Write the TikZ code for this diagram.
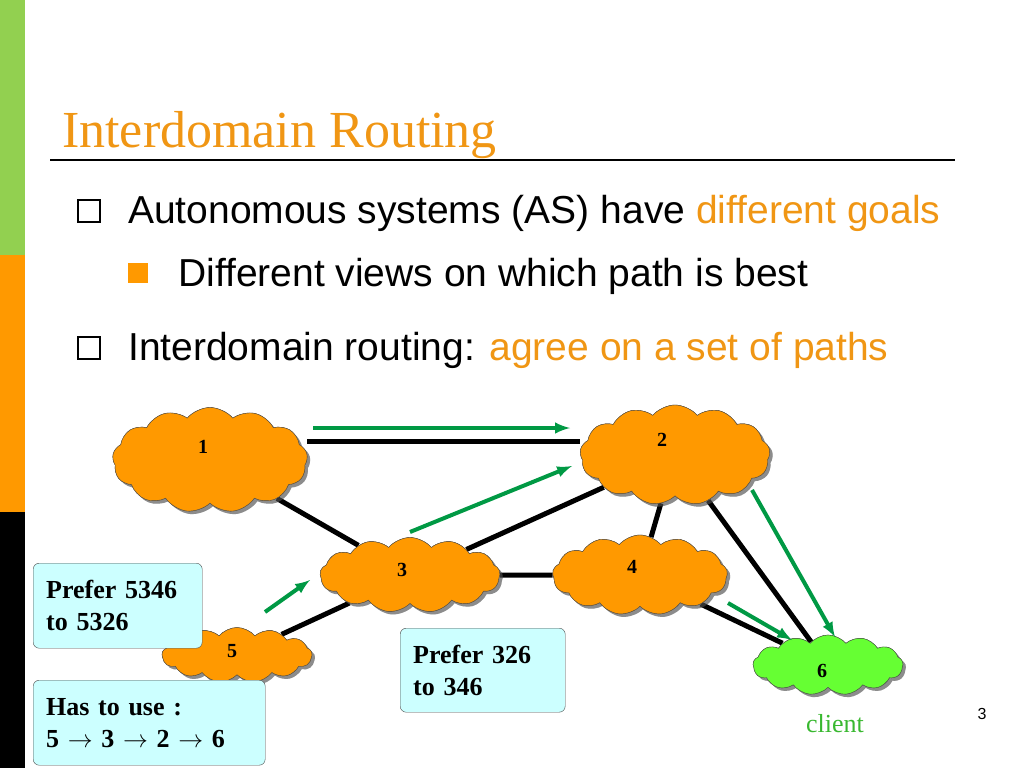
\documentclass[tikz,border=0pt]{standalone}
\usepackage{fontspec}
\setmainfont{Liberation Serif}
\newfontfamily\sansf{Liberation Sans}
\usetikzlibrary{shapes.symbols,shadows,positioning}
\definecolor{asorange}{RGB}{255,153,0}
\definecolor{titleorange}{RGB}{240,150,20}
\definecolor{cligreen}{RGB}{102,255,51}
\definecolor{arrgreen}{RGB}{0,153,68}
\definecolor{boxcyan}{RGB}{204,255,255}
\definecolor{barlime}{RGB}{146,208,80}
\tikzset{
  as/.style={cloud, cloud puffs=13, cloud puff arc=100, cloud ignores aspect, draw=black!70, fill=asorange,
    drop shadow={shadow xshift=3pt,shadow yshift=-3pt,fill=black!60}, inner sep=0pt},
  lbl/.style={font=\bfseries\fontsize{20}{20}\selectfont},
  link/.style={line width=5pt},
  pref/.style={arrgreen, line width=4pt, -latex},
  bul/.style={anchor=base west, font=\sansf\fontsize{39}{39}\selectfont, inner sep=0},
  note/.style={draw=black!70, fill=boxcyan, rounded corners=6pt, align=left,
    font=\bfseries\fontsize{26}{32}\selectfont, inner xsep=13pt, inner ysep=8pt, anchor=north west}
}
\begin{document}
\begin{tikzpicture}[x=1pt,y=-1pt]
\useasboundingbox (0,0) rectangle (1024,768);
% side bar
\fill[barlime] (0,0) rectangle (25,255);
\fill[asorange] (0,255) rectangle (25,512);
\fill[black] (0,512) rectangle (25,768);
% title
\node[anchor=base west, text=titleorange, font=\fontsize{52}{52}\selectfont, inner sep=0] (title) at (62,147) {Interdomain Routing};
\draw[line width=1.5pt] (50,160) -- (955,160);
% bullets
\draw[line width=1.5pt] (78,200) rectangle (100,222);
\node[bul] (b1) at (128,223) {Autonomous systems (AS) have \textcolor{titleorange}{different goals}};
\fill[asorange] (128,263) rectangle (148,283);
\node[bul] (b2) at (178,286) {Different views on which path is best};
\draw[line width=1.5pt] (78,337) rectangle (100,359);
\node[bul] (b3) at (128,360) {Interdomain routing: \textcolor{titleorange}{agree on a set of paths}};
% clouds
\node[as, minimum width=195pt, minimum height=105pt] (as1) at (210,460) {};
\node[as, minimum width=190pt, minimum height=100pt] (as2) at (675,455) {};
\node[as, minimum width=180pt, minimum height=75pt] (as3) at (410,575) {};
\node[as, minimum width=175pt, minimum height=80pt] (as4) at (640,575) {};
\node[as, minimum width=150pt, minimum height=55pt] (as5) at (237,655) {};
\node[as, fill=cligreen, minimum width=150pt, minimum height=60pt] (as6) at (828,665) {};
% links
\draw[link] (as1.east |- 0,441) -- (as2.west |- 0,441);
\draw[link] (as1) -- (as3);
\draw[link] (as3) -- (as2);
\draw[link] (as3) -- (as4);
\draw[link] (as4) -- (as2);
\draw[link] (as2) -- (as6);
\draw[link] (as4) -- (as6);
\draw[link] (as3) -- (as5);
% redraw clouds over links
\node[as, minimum width=195pt, minimum height=105pt] at (210,460) {};
\node[as, minimum width=190pt, minimum height=100pt] at (675,455) {};
\node[as, minimum width=180pt, minimum height=75pt] at (410,575) {};
\node[as, minimum width=175pt, minimum height=80pt] at (640,575) {};
\node[as, minimum width=150pt, minimum height=55pt] at (237,655) {};
\node[as, fill=cligreen, minimum width=150pt, minimum height=60pt] at (828,665) {};
\node[lbl] (l1) at (203,447) {1};
\node[lbl] (l2) at (662,440) {2};
\node[lbl] (l3) at (402,570) {3};
\node[lbl] (l4) at (632,567) {4};
\node[lbl] (l5) at (232,651) {5};
\node[lbl] (l6) at (822,671) {6};
% preferred paths
\coordinate (p1) at (313,428); \coordinate (q1) at (570,428);
\coordinate (p2) at (410,532); \coordinate (q2) at (572,466);
\coordinate (p3) at (265,612); \coordinate (q3) at (310,580);
\coordinate (p4) at (752,490); \coordinate (q4) at (835,637);
\coordinate (p5) at (728,603); \coordinate (q5) at (792,640);
\draw[pref] (p1) -- (q1);
\draw[pref] (p2) -- (q2);
\draw[pref] (p3) -- (q3);
\draw[pref] (p4) -- (q4);
\draw[pref] (p5) -- (q5);
% notes
\node[note, text width=143pt, minimum height=85pt] (n1) at (33,563) {Prefer 5346\\to 5326};
\node[note, text width=139pt, minimum height=84pt] (n2) at (400,628) {Prefer 326\\to 346};
\node[note, text width=206pt, minimum height=85pt] (n3) at (33,680) {Has to use :\\5 $\rightarrow$ 3 $\rightarrow$ 2 $\rightarrow$ 6};
\node[text=arrgreen!70!lime, font=\fontsize{26}{26}\selectfont] (cl) at (835,724) {client};
\node[font=\sansf\fontsize{16}{16}\selectfont] (pg) at (982,714) {3};
\end{tikzpicture}
\end{document}
